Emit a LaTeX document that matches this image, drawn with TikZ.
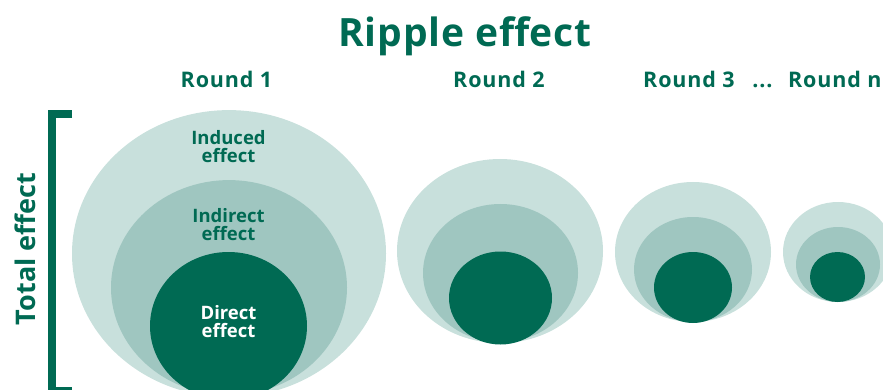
\documentclass[tikz,border=0pt]{standalone}
\usepackage{fontspec}
\setmainfont{Open Sans}
\usepackage{tikz}
\usetikzlibrary{shapes.geometric, positioning}
\definecolor{dkgreen}{RGB}{0,106,83}
\definecolor{mdteal}{RGB}{159,198,192}
\definecolor{ltteal}{RGB}{200,224,220}

\begin{document}
\begin{tikzpicture}[
  x=1pt, y=-1pt,
  ring/.style={ellipse, inner sep=0pt, outer sep=0pt, draw=none},
  outring/.style={ring, fill=ltteal},
  midring/.style={ring, fill=mdteal},
  core/.style={ring, fill=dkgreen},
  lbl/.style={align=center, font=\bfseries\fontsize{18.5}{18}\selectfont,
              text=dkgreen, inner sep=0pt},
  rnd/.style={anchor=base, font=\bfseries\fontsize{21.5}{24}\selectfont
              \addfontfeature{LetterSpace=4},
              text=dkgreen, inner sep=0pt},
  brk/.style={draw=dkgreen, line width=8pt, line join=miter}
]
  \useasboundingbox (0,0) rectangle (883,390);

  % - Tieu de -
  \node[anchor=base, font=\bfseries\fontsize{39}{40}\selectfont
        \addfontfeature{LetterSpace=2},
        text=dkgreen, inner sep=0pt] (title) at (465,47) {Ripple effect};

  % - Nhan vong -
  \node[rnd] (r1) at (226.5,88) {Round 1};
  \node[rnd] (r2) at (499,88)   {Round 2};
  \node[rnd] (r3) at (689,88)   {Round 3};
  \node[rnd] (dots) at (762.5,88) {...};
  \node[rnd, anchor=base west] (rn) at (788,88) {Round n};

  % - Vong 1 -
  \node[outring, minimum width=314pt, minimum height=287pt] (o1) at (229,253.6) {};
  \node[midring, minimum width=236pt, minimum height=215pt] (m1) at (229,287.6) {};
  \node[core, minimum width=157pt, minimum height=148pt]   (c1) at (228.5,326) {};

  \node[lbl] (induced)  at (228.5,147) {Induced\\effect};
  \node[lbl] (indirect) at (228.5,225) {Indirect\\effect};
  \node[lbl, text=white] (direct) at (228.5,322) {Direct\\effect};

  % - Vong 2 -
  \node[outring, minimum width=206pt, minimum height=184pt] (o2) at (500,251) {};
  \node[midring, minimum width=155pt, minimum height=138pt] (m2) at (500.5,273) {};
  \node[core, minimum width=103pt, minimum height=93pt]     (c2) at (500.5,298) {};

  % - Vong 3 -
  \node[outring, minimum width=156pt, minimum height=140pt] (o3) at (693,252) {};
  \node[midring, minimum width=118pt, minimum height=105pt] (m3) at (693,269.5) {};
  \node[core, minimum width=78pt, minimum height=71pt]      (c3) at (693,287.5) {};

  % - Vong n -
  \node[outring, minimum width=110pt, minimum height=100pt] (o4) at (838,252) {};
  \node[midring, minimum width=84pt, minimum height=75pt]   (m4) at (838,264.5) {};
  \node[core, minimum width=55pt, minimum height=50pt]      (c4) at (837.5,277) {};

  % - Ngoac tong -
  \coordinate (brt) at (72,114);
  \coordinate (brb) at (72,391);
  \draw[brk] (brt) -- ++(-20,0) |- (brb);
  \node[anchor=base, rotate=90, font=\bfseries\fontsize{27}{32}\selectfont,
        text=dkgreen, inner sep=0pt] (total) at (35,249) {Total effect};
\end{tikzpicture}
\end{document}
